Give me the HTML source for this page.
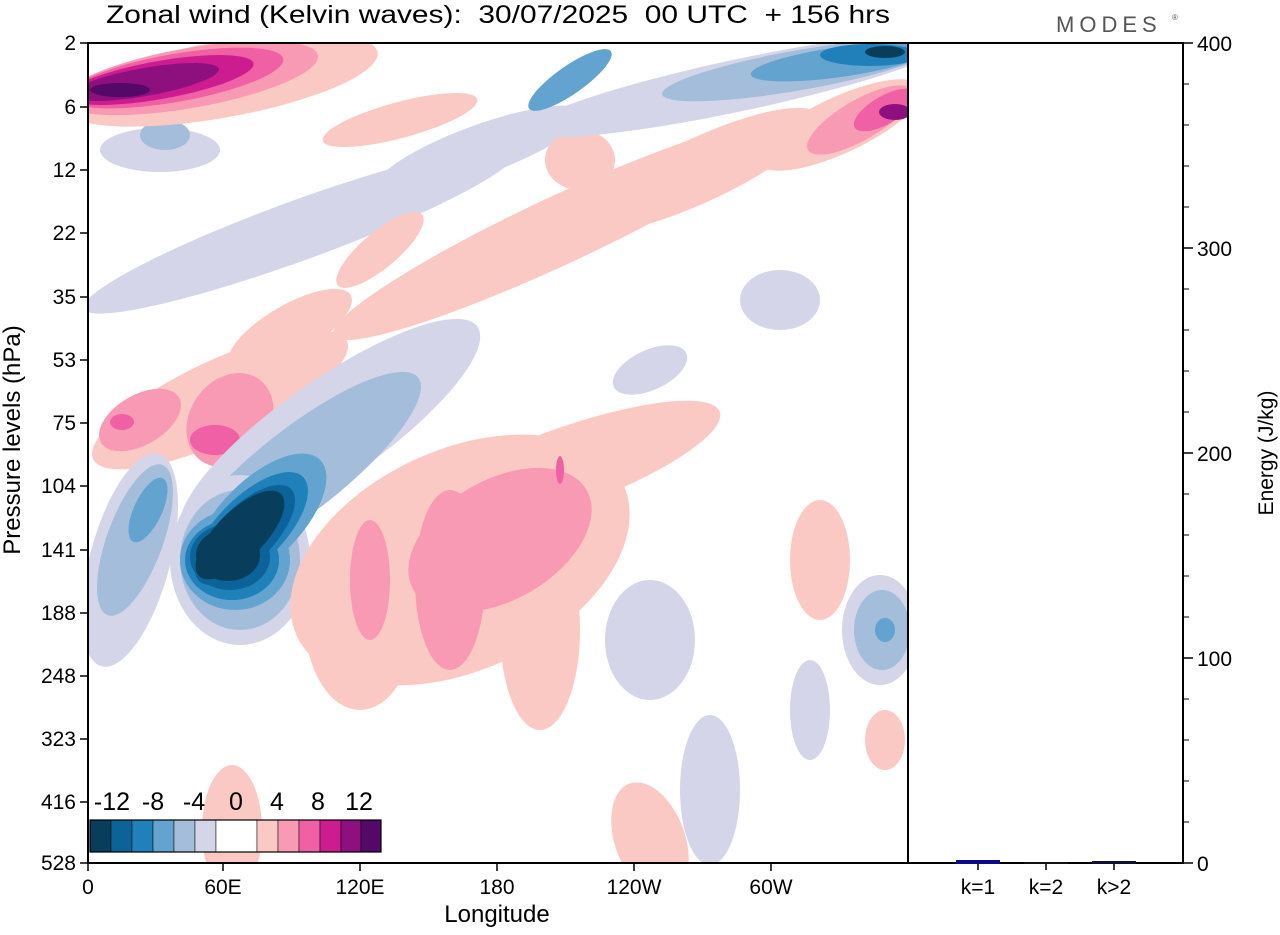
<!DOCTYPE html>
<html><head><meta charset="utf-8"><style>
body{margin:0;background:#fff;}
svg text{font-family:"Liberation Sans",Arial,sans-serif;fill:#000;white-space:pre;}
</style></head><body>
<svg width="1280" height="930" viewBox="0 0 1280 930" xmlns="http://www.w3.org/2000/svg">
<defs><clipPath id="c"><rect x="88" y="43" width="820" height="820"/></clipPath></defs>
<g clip-path="url(#c)">
<ellipse cx="300" cy="230" rx="230" ry="30" fill="#d4d5e8" transform="rotate(-20 300 230)"/>
<ellipse cx="480" cy="150" rx="110" ry="25" fill="#d4d5e8" transform="rotate(-20 480 150)"/>
<ellipse cx="160" cy="150" rx="60" ry="22" fill="#d4d5e8"/>
<ellipse cx="165" cy="135" rx="25" ry="15" fill="#a3bddb"/>
<ellipse cx="560" cy="230" rx="250" ry="34" fill="#fbc9c4" transform="rotate(-25 560 230)"/>
<ellipse cx="700" cy="170" rx="130" ry="32" fill="#fbc9c4" transform="rotate(-25 700 170)"/>
<ellipse cx="400" cy="120" rx="80" ry="18" fill="#fbc9c4" transform="rotate(-15 400 120)"/>
<ellipse cx="580" cy="160" rx="35" ry="30" fill="#fbc9c4"/>
<ellipse cx="380" cy="250" rx="55" ry="18" fill="#fbc9c4" transform="rotate(-40 380 250)"/>
<ellipse cx="780" cy="300" rx="40" ry="30" fill="#d4d5e8"/>
<ellipse cx="650" cy="370" rx="40" ry="20" fill="#d4d5e8" transform="rotate(-25 650 370)"/>
<ellipse cx="220" cy="80" rx="160" ry="38" fill="#fbc9c4" transform="rotate(-10 220 80)"/>
<ellipse cx="190" cy="78" rx="130" ry="30" fill="#f99ab4" transform="rotate(-10 190 78)"/>
<ellipse cx="175" cy="78" rx="110" ry="24" fill="#f060a4" transform="rotate(-10 175 78)"/>
<ellipse cx="160" cy="80" rx="95" ry="19" fill="#cc1c8f" transform="rotate(-10 160 80)"/>
<ellipse cx="145" cy="82" rx="75" ry="14" fill="#8e0f7e" transform="rotate(-10 145 82)"/>
<ellipse cx="120" cy="90" rx="30" ry="7" fill="#540868"/>
<ellipse cx="740" cy="85" rx="220" ry="26" fill="#d4d5e8" transform="rotate(-12 740 85)"/>
<ellipse cx="800" cy="70" rx="140" ry="20" fill="#a3bddb" transform="rotate(-10 800 70)"/>
<ellipse cx="840" cy="62" rx="90" ry="15" fill="#62a3cf" transform="rotate(-8 840 62)"/>
<ellipse cx="870" cy="55" rx="50" ry="11" fill="#1f80ba"/>
<ellipse cx="885" cy="52" rx="20" ry="6" fill="#083d5c"/>
<ellipse cx="570" cy="80" rx="50" ry="14" fill="#62a3cf" transform="rotate(-35 570 80)"/>
<ellipse cx="840" cy="125" rx="90" ry="28" fill="#fbc9c4" transform="rotate(-25 840 125)"/>
<ellipse cx="860" cy="120" rx="60" ry="20" fill="#f99ab4" transform="rotate(-30 860 120)"/>
<ellipse cx="885" cy="110" rx="35" ry="14" fill="#f060a4" transform="rotate(-30 885 110)"/>
<ellipse cx="895" cy="112" rx="16" ry="8" fill="#8e0f7e"/>
<ellipse cx="220" cy="400" rx="140" ry="40" fill="#fbc9c4" transform="rotate(-25 220 400)"/>
<ellipse cx="290" cy="330" rx="70" ry="25" fill="#fbc9c4" transform="rotate(-30 290 330)"/>
<ellipse cx="140" cy="420" rx="45" ry="25" fill="#f99ab4" transform="rotate(-30 140 420)"/>
<ellipse cx="122" cy="422" rx="12" ry="8" fill="#f060a4"/>
<ellipse cx="230" cy="420" rx="40" ry="50" fill="#f99ab4" transform="rotate(35 230 420)"/>
<ellipse cx="215" cy="440" rx="25" ry="15" fill="#f060a4"/>
<ellipse cx="330" cy="430" rx="180" ry="50" fill="#d4d5e8" transform="rotate(-35 330 430)"/>
<ellipse cx="300" cy="470" rx="150" ry="42" fill="#a3bddb" transform="rotate(-38 300 470)"/>
<ellipse cx="240" cy="560" rx="70" ry="85" fill="#d4d5e8"/>
<ellipse cx="240" cy="560" rx="60" ry="70" fill="#a3bddb"/>
<ellipse cx="260" cy="520" rx="85" ry="40" fill="#62a3cf" transform="rotate(-45 260 520)"/>
<ellipse cx="235" cy="560" rx="55" ry="50" fill="#62a3cf"/>
<ellipse cx="250" cy="530" rx="75" ry="33" fill="#1f80ba" transform="rotate(-45 250 530)"/>
<ellipse cx="232" cy="560" rx="47" ry="40" fill="#1f80ba"/>
<ellipse cx="245" cy="535" rx="65" ry="28" fill="#0b6399" transform="rotate(-45 245 535)"/>
<ellipse cx="230" cy="557" rx="40" ry="33" fill="#0b6399"/>
<ellipse cx="240" cy="535" rx="58" ry="24" fill="#083d5c" transform="rotate(-45 240 535)"/>
<ellipse cx="228" cy="555" rx="32" ry="26" fill="#083d5c"/>
<ellipse cx="130" cy="560" rx="40" ry="110" fill="#d4d5e8" transform="rotate(15 130 560)"/>
<ellipse cx="135" cy="540" rx="28" ry="80" fill="#a3bddb" transform="rotate(20 135 540)"/>
<ellipse cx="148" cy="510" rx="14" ry="35" fill="#62a3cf" transform="rotate(25 148 510)"/>
<ellipse cx="460" cy="560" rx="180" ry="110" fill="#fbc9c4" transform="rotate(-25 460 560)"/>
<ellipse cx="560" cy="470" rx="170" ry="40" fill="#fbc9c4" transform="rotate(-20 560 470)"/>
<ellipse cx="360" cy="620" rx="55" ry="90" fill="#fbc9c4"/>
<ellipse cx="540" cy="630" rx="40" ry="100" fill="#fbc9c4"/>
<ellipse cx="500" cy="540" rx="100" ry="60" fill="#f99ab4" transform="rotate(-30 500 540)"/>
<ellipse cx="450" cy="580" rx="35" ry="90" fill="#f99ab4"/>
<ellipse cx="370" cy="580" rx="20" ry="60" fill="#f99ab4"/>
<ellipse cx="560" cy="470" rx="4" ry="14" fill="#f060a4"/>
<ellipse cx="820" cy="560" rx="30" ry="60" fill="#fbc9c4"/>
<ellipse cx="880" cy="630" rx="38" ry="55" fill="#d4d5e8"/>
<ellipse cx="882" cy="630" rx="28" ry="40" fill="#a3bddb"/>
<ellipse cx="885" cy="630" rx="10" ry="12" fill="#62a3cf"/>
<ellipse cx="885" cy="740" rx="20" ry="30" fill="#fbc9c4"/>
<ellipse cx="650" cy="640" rx="45" ry="60" fill="#d4d5e8"/>
<ellipse cx="810" cy="710" rx="20" ry="50" fill="#d4d5e8"/>
<ellipse cx="710" cy="790" rx="30" ry="75" fill="#d4d5e8"/>
<ellipse cx="650" cy="840" rx="35" ry="60" fill="#fbc9c4" transform="rotate(-20 650 840)"/>
<ellipse cx="232" cy="830" rx="30" ry="65" fill="#fbc9c4"/>
</g>
<rect x="88" y="43" width="820" height="820" fill="none" stroke="#000" stroke-width="2"/>
<rect x="908" y="43" width="275" height="820" fill="none" stroke="#000" stroke-width="2"/>
<g stroke="#000" stroke-width="0.5">
<rect x="90" y="820" width="21" height="32" fill="#083d5c"/>
<rect x="111" y="820" width="21" height="32" fill="#0b6399"/>
<rect x="132" y="820" width="21" height="32" fill="#1f80ba"/>
<rect x="153" y="820" width="21" height="32" fill="#62a3cf"/>
<rect x="174" y="820" width="21" height="32" fill="#a3bddb"/>
<rect x="195" y="820" width="21" height="32" fill="#d4d5e8"/>
<rect x="216" y="820" width="41" height="32" fill="#fff"/>
<rect x="257" y="820" width="21" height="32" fill="#fbc9c4"/>
<rect x="278" y="820" width="21" height="32" fill="#f99ab4"/>
<rect x="299" y="820" width="21" height="32" fill="#f060a4"/>
<rect x="320" y="820" width="21" height="32" fill="#cc1c8f"/>
<rect x="341" y="820" width="20" height="32" fill="#8e0f7e"/>
<rect x="361" y="820" width="20" height="32" fill="#540868"/>
</g>
<rect x="90" y="820" width="291" height="32" fill="none" stroke="#000" stroke-width="1.2"/>
<g font-size="25" text-anchor="middle">
<text x="112" y="810">-12</text><text x="153" y="810">-8</text><text x="194" y="810">-4</text><text x="236" y="810">0</text><text x="277" y="810">4</text><text x="318" y="810">8</text><text x="359" y="810">12</text>
</g>
<g stroke="#000" stroke-width="1.5">
<line x1="80" y1="43" x2="88" y2="43"/><line x1="80" y1="107" x2="88" y2="107"/><line x1="80" y1="170" x2="88" y2="170"/><line x1="80" y1="233" x2="88" y2="233"/><line x1="80" y1="297" x2="88" y2="297"/><line x1="80" y1="360" x2="88" y2="360"/><line x1="80" y1="423" x2="88" y2="423"/><line x1="80" y1="486" x2="88" y2="486"/><line x1="80" y1="550" x2="88" y2="550"/><line x1="80" y1="613" x2="88" y2="613"/><line x1="80" y1="676" x2="88" y2="676"/><line x1="80" y1="739" x2="88" y2="739"/><line x1="80" y1="802" x2="88" y2="802"/><line x1="80" y1="863" x2="88" y2="863"/>
<line x1="88" y1="863" x2="88" y2="871"/><line x1="223" y1="863" x2="223" y2="871"/><line x1="360" y1="863" x2="360" y2="871"/><line x1="497" y1="863" x2="497" y2="871"/><line x1="634" y1="863" x2="634" y2="871"/><line x1="771" y1="863" x2="771" y2="871"/>
<line x1="1183" y1="43" x2="1193" y2="43"/><line x1="1183" y1="248" x2="1193" y2="248"/><line x1="1183" y1="453" x2="1193" y2="453"/><line x1="1183" y1="658" x2="1193" y2="658"/><line x1="1183" y1="863" x2="1193" y2="863"/>
<line x1="978" y1="863" x2="978" y2="870"/><line x1="1046" y1="863" x2="1046" y2="870"/><line x1="1114" y1="863" x2="1114" y2="870"/>
</g>
<g stroke="#000" stroke-width="1">
<line x1="1183" y1="84" x2="1189" y2="84"/><line x1="1183" y1="125" x2="1189" y2="125"/><line x1="1183" y1="166" x2="1189" y2="166"/><line x1="1183" y1="207" x2="1189" y2="207"/>
<line x1="1183" y1="289" x2="1189" y2="289"/><line x1="1183" y1="330" x2="1189" y2="330"/><line x1="1183" y1="371" x2="1189" y2="371"/><line x1="1183" y1="412" x2="1189" y2="412"/>
<line x1="1183" y1="494" x2="1189" y2="494"/><line x1="1183" y1="535" x2="1189" y2="535"/><line x1="1183" y1="576" x2="1189" y2="576"/><line x1="1183" y1="617" x2="1189" y2="617"/>
<line x1="1183" y1="699" x2="1189" y2="699"/><line x1="1183" y1="740" x2="1189" y2="740"/><line x1="1183" y1="781" x2="1189" y2="781"/><line x1="1183" y1="822" x2="1189" y2="822"/>
</g>
<rect x="956" y="860" width="44" height="4" fill="#0a0a8a"/>
<rect x="1024" y="862" width="44" height="2" fill="#111"/>
<rect x="1092" y="861" width="44" height="3" fill="#101030"/>
<g font-size="21" text-anchor="end">
<text x="76" y="50">2</text><text x="76" y="114">6</text><text x="76" y="177">12</text><text x="76" y="240">22</text><text x="76" y="304">35</text><text x="76" y="367">53</text><text x="76" y="430">75</text><text x="76" y="493">104</text><text x="76" y="557">141</text><text x="76" y="620">188</text><text x="76" y="683">248</text><text x="76" y="746">323</text><text x="76" y="809">416</text><text x="76" y="870">528</text>
</g>
<g font-size="21" text-anchor="middle">
<text x="88" y="894">0</text><text x="223" y="894">60E</text><text x="360" y="894">120E</text><text x="497" y="894">180</text><text x="634" y="894">120W</text><text x="771" y="894">60W</text>
<text x="978" y="894">k=1</text><text x="1046" y="894">k=2</text><text x="1114" y="894">k&gt;2</text>
<text x="497" y="922" font-size="24">Longitude</text>
</g>
<g font-size="21">
<text x="1197" y="51">400</text><text x="1197" y="256">300</text><text x="1197" y="461">200</text><text x="1197" y="666">100</text><text x="1197" y="871">0</text>
</g>
<text x="0" y="0" font-size="24" text-anchor="middle" transform="translate(20 440) rotate(-90)">Pressure levels (hPa)</text>
<text x="0" y="0" font-size="21" text-anchor="middle" transform="translate(1273 453) rotate(-90)">Energy (J/kg)</text>
<text x="106" y="23" font-size="25" textLength="784" lengthAdjust="spacingAndGlyphs" xml:space="preserve">Zonal wind (Kelvin waves):  30/07/2025  00 UTC  + 156 hrs</text>
<text x="1056" y="32" font-size="22" style="fill:#555;letter-spacing:5px">MODES</text>
<text x="1172" y="20" font-size="8" style="fill:#555">®</text>
</svg>
</body></html>
